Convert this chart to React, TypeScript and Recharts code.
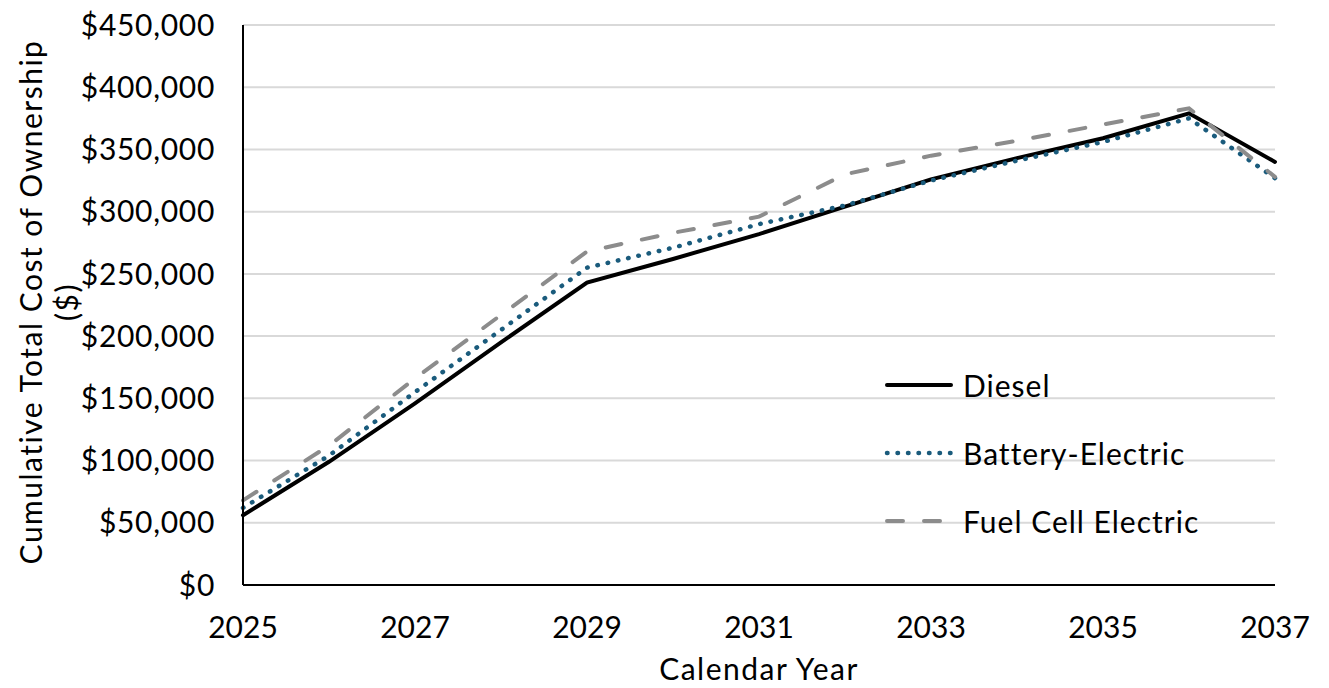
import React from "react";
import { LineChart, Line, XAxis, YAxis, CartesianGrid, Legend } from "recharts";

const years = [2025, 2026, 2027, 2028, 2029, 2030, 2031, 2032, 2033, 2034, 2035, 2036, 2037];
const diesel = [56000, 99000, 146000, 195000, 243000, 262000, 282000, 304000, 326000, 343000, 359000, 379000, 340000];
const batteryElectric = [62000, 104000, 155000, 205000, 255000, 271000, 290000, 305000, 325000, 341000, 356000, 375000, 327000];
const fuelCellElectric = [68000, 112000, 166000, 217000, 268000, 283000, 296000, 330000, 345000, 357000, 370000, 383000, 328000];
const xTicks = [2025, 2027, 2029, 2031, 2033, 2035, 2037];
const yTicks = [0, 50000, 100000, 150000, 200000, 250000, 300000, 350000, 400000, 450000];

const data = years.map((year, i) => ({
  year,
  diesel: diesel[i],
  battery: batteryElectric[i],
  fuelCell: fuelCellElectric[i],
}));

const FONT = "Lato, 'Noto Sans', sans-serif";

const series = [
  { key: "diesel", name: "Diesel", color: "#000000", dash: undefined as string | undefined, width: 4 },
  { key: "battery", name: "Battery-Electric", color: "#1a5b7c", dash: "0.5 10", width: 4.5 },
  { key: "fuelCell", name: "Fuel Cell Electric", color: "#8c8c8c", dash: "16 21", width: 4 },
];

const money = (v: number) => "$" + v.toLocaleString("en-US");

function LegendBox() {
  return (
    <div style={{ fontFamily: FONT, fontSize: 30, color: "#000", letterSpacing: 1 }}>
      {series.map((s) => (
        <div key={s.key} style={{ display: "flex", alignItems: "center", height: 68 }}>
          <svg width={76} height={10} style={{ marginRight: 4 }}>
            <line
              x1={4}
              x2={68}
              y1={5}
              y2={5}
              stroke={s.color}
              strokeWidth={s.width}
              strokeDasharray={s.dash}
              strokeLinecap="round"
            />
          </svg>
          <span>{s.name}</span>
        </div>
      ))}
    </div>
  );
}

function YTitle() {
  return (
    <g fontFamily={FONT} fontSize={30} fill="#000" letterSpacing={1.5}>
      <text x={30} y={302} textAnchor="middle" dominantBaseline="central" transform="rotate(-90 30 302)">
        Cumulative Total Cost of Ownership
      </text>
      <text x={66} y={302} textAnchor="middle" dominantBaseline="central" transform="rotate(-90 66 302)">
        ($)
      </text>
    </g>
  );
}

export default function App() {
  return (
    <div style={{ position: "absolute", left: 0, top: 0, width: 1329, height: 688, background: "#fff" }}>
      <LineChart
        width={1329}
        height={688}
        data={data}
        margin={{ top: 25, right: 54, bottom: 0, left: 0 }}>
        <CartesianGrid vertical={false} stroke="#d9d9d9" strokeWidth={2} />
        <XAxis
          dataKey="year"
          type="number"
          domain={[2025, 2037]}
          ticks={xTicks}
          height={103}
          tickLine={false}
          tickSize={0}
          tickMargin={32}
          axisLine={{ stroke: "#000", strokeWidth: 2 }}
          tick={{ fontSize: 30, fill: "#000", fontFamily: FONT }}
          label={{
            value: "Calendar Year",
            position: "insideBottom",
            offset: 8,
            fontSize: 30,
            fill: "#000",
            fontFamily: FONT,
            letterSpacing: 1.5,
          }}
        />
        <YAxis
          domain={[0, 450000]}
          ticks={yTicks}
          width={243}
          tickLine={false}
          tickSize={0}
          tickMargin={28}
          tickFormatter={money}
          axisLine={{ stroke: "#000", strokeWidth: 2 }}
          tick={{ fontSize: 30, fill: "#000", fontFamily: FONT, letterSpacing: 0.7 }}
          label={{ content: () => <YTitle /> }}
        />
        <Legend
          layout="horizontal"
          verticalAlign="middle"
          align="center"
          content={() => <LegendBox />}
          wrapperStyle={{ left: 883, top: 351, width: 360 }}
        />
        {series.map((s) => (
          <Line
            key={s.key}
            type="linear"
            dataKey={s.key}
            name={s.name}
            stroke={s.color}
            strokeWidth={s.width}
            strokeDasharray={s.dash}
            strokeLinecap="round"
            dot={false}
            activeDot={false}
            isAnimationActive={false}
          />
        ))}
      </LineChart>
    </div>
  );
}
